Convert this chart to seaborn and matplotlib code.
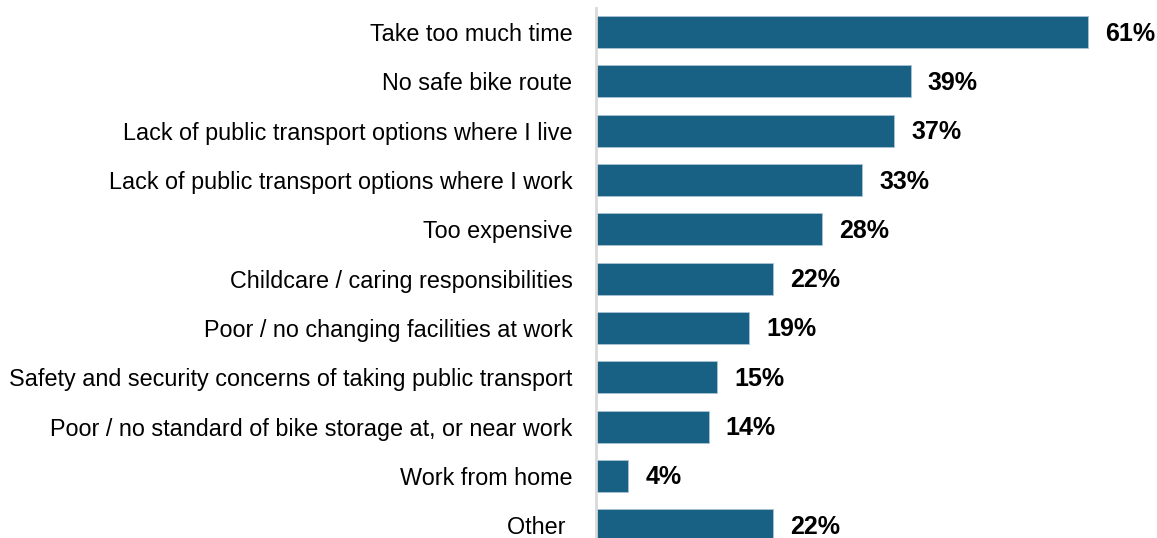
import matplotlib
matplotlib.use("Agg")
import matplotlib.pyplot as plt
import seaborn as sns
import pandas as pd

reasons = [
    "Take too much time",
    "No safe bike route",
    "Lack of public transport options where I live",
    "Lack of public transport options where I work",
    "Too expensive",
    "Childcare / caring responsibilities",
    "Poor / no changing facilities at work",
    "Safety and security concerns of taking public transport",
    "Poor / no standard of bike storage at, or near work",
    "Work from home",
    "Other ",
]
shares = [61, 39, 37, 33, 28, 22, 19, 15, 14, 4, 22]

df = pd.DataFrame({"reason": reasons, "share": shares})

sns.set_theme(style="white")
plt.rcParams["font.family"] = ["Liberation Sans", "DejaVu Sans"]

W, H = 1157, 538
fig = plt.figure(figsize=(W / 100, H / 100), dpi=100)
ax = fig.add_axes([596 / W, 0, (1150 - 596) / W, 530 / H])

bar_color = "#196184"
sns.barplot(data=df, x="share", y="reason", orient="h", color=bar_color,
            width=0.65, edgecolor="#a9c3d3", linewidth=0.6, saturation=1, ax=ax)

ax.set_xlim(0, 554 / 8.066)
ax.set_ylim(10.26, -0.49)
ax.set_xlabel("")
ax.set_ylabel("")
ax.set_xticks([])
for s in ["top", "right", "bottom"]:
    ax.spines[s].set_visible(False)
ax.spines["left"].set_color("#d9d9d9")
ax.spines["left"].set_linewidth(2)
ax.tick_params(axis="y", length=0, pad=17, labelsize=16.8, labelcolor="#000000")

for i, v in enumerate(shares):
    ax.text(v + 2.1, i + 0.03, f"{v}%", va="center", ha="left",
            fontsize=18, fontweight="bold", color="#000000")

fig.savefig("out.png", dpi=100)
